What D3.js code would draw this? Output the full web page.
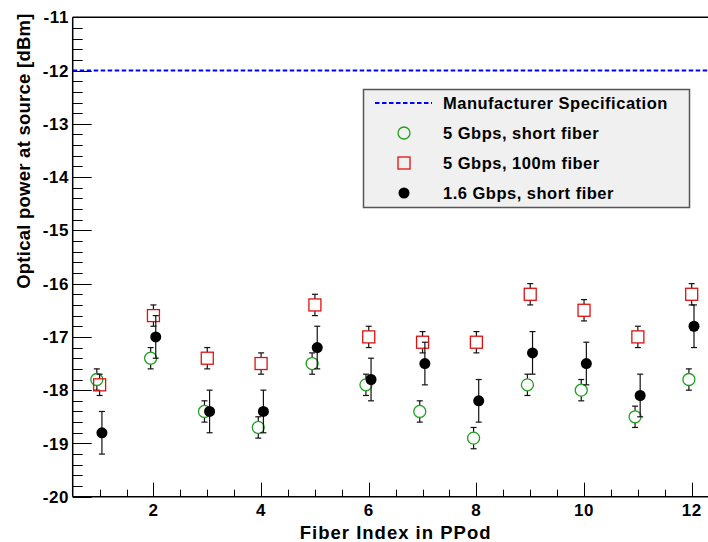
<!DOCTYPE html>
<html>
<head>
<meta charset="utf-8">
<script src="https://cdn.jsdelivr.net/npm/d3@7"></script>
<style>
  html, body { margin: 0; padding: 0; background: #fff; }
  svg { display: block; font-family: "Liberation Sans", Arial, Helvetica, sans-serif; font-weight: bold; }
</style>
</head>
<body>
<svg id="chart" width="708" height="542"></svg>
<script>
// Fiber indices on the PPod
const fibers = [1, 2, 3, 4, 5, 6, 7, 8, 9, 10, 11, 12];

// Measured optical power [dBm]
const short5G = [-17.8, -17.4, -18.4, -18.7, -17.5, -17.9, -18.4, -18.9, -17.9, -18.0, -18.5, -17.8];
const short5GErr = [0.2, 0.2, 0.2, 0.2, 0.2, 0.2, 0.2, 0.2, 0.2, 0.2, 0.2, 0.2];
const long5G = [-17.9, -16.6, -17.4, -17.5, -16.4, -17.0, -17.1, -17.1, -16.2, -16.5, -17.0, -16.2];
const long5GErr = [0.2, 0.2, 0.2, 0.2, 0.2, 0.2, 0.2, 0.2, 0.2, 0.2, 0.2, 0.2];
const short16G = [-18.8, -17.0, -18.4, -18.4, -17.2, -17.8, -17.5, -18.2, -17.3, -17.5, -18.1, -16.8];
const short16GErr = [0.4, 0.4, 0.4, 0.4, 0.4, 0.4, 0.4, 0.4, 0.4, 0.4, 0.4, 0.4];

// Manufacturer minimum specification
const specLevel = -12;

// Axis tick labels
const xTickLabels = [2, 4, 6, 8, 10, 12];
const yTickLabels = [-11, -12, -13, -14, -15, -16, -17, -18, -19, -20];

const legendLabels = ["Manufacturer Specification", "5 Gbps, short fiber", "5 Gbps, 100m fiber", "1.6 Gbps, short fiber"];

const svg = d3.select("#chart");
const plotLeft = 72.7, plotRight = 718.6, plotTop = 17.3, plotBottom = 496.7;

const x = d3.scaleLinear().domain([0.5, 12.5]).range([plotLeft, plotRight]);
const y = d3.scaleLinear().domain([-20, -11]).range([plotBottom, plotTop]);

const green = "#1fa01f", red = "#e01010", blue = "#0000ff";

// Y axis: major ticks every 1, minor every 0.2, ticks pointing inward
const yMinor = d3.range(-20, -10.99, 0.2).map(v => +v.toFixed(1));
svg.append("g").selectAll("line").data(yMinor).join("line")
  .attr("x1", plotLeft).attr("x2", d => plotLeft + (Math.abs(d - Math.round(d)) < 1e-6 ? 19 : 10))
  .attr("y1", d => Math.round(y(d)) + 0.5).attr("y2", d => Math.round(y(d)) + 0.5)
  .attr("stroke", "#000").attr("stroke-width", 1);

svg.append("g").selectAll("text").data(yTickLabels).join("text")
  .attr("x", 69).attr("y", d => y(d)).attr("dy", "0.36em")
  .attr("text-anchor", "end").attr("font-size", 17).attr("letter-spacing", "0.6px")
  .text(d => d);

// X axis: major ticks every 2, minor every 0.5
const xMinor = d3.range(1, 12.51, 0.5);
svg.append("g").selectAll("line").data(xMinor).join("line")
  .attr("x1", d => Math.round(x(d)) + 0.5).attr("x2", d => Math.round(x(d)) + 0.5)
  .attr("y1", plotBottom).attr("y2", d => plotBottom - (d % 2 === 0 ? 14 : 7))
  .attr("stroke", "#000").attr("stroke-width", 1);

svg.append("g").selectAll("text").data(xTickLabels).join("text")
  .attr("x", d => x(d)).attr("y", 516)
  .attr("text-anchor", "middle").attr("font-size", 17).attr("letter-spacing", "0.6px")
  .text(d => d);

// Frame
svg.append("line").attr("x1", plotLeft).attr("x2", plotRight).attr("y1", plotTop).attr("y2", plotTop)
  .attr("stroke", "#000").attr("stroke-width", 1.5);
svg.append("line").attr("x1", plotLeft).attr("x2", plotRight).attr("y1", plotBottom).attr("y2", plotBottom)
  .attr("stroke", "#000").attr("stroke-width", 1.5);
svg.append("line").attr("x1", plotLeft).attr("x2", plotLeft).attr("y1", plotTop).attr("y2", plotBottom)
  .attr("stroke", "#000").attr("stroke-width", 1.5);

// Axis titles
svg.append("text")
  .attr("x", (plotLeft + plotRight) / 2).attr("y", 539)
  .attr("text-anchor", "middle").attr("font-size", 18.5).attr("letter-spacing", "1px")
  .text("Fiber Index in PPod");

svg.append("text")
  .attr("transform", `translate(30,${plotTop - 4}) rotate(-90)`)
  .attr("text-anchor", "end").attr("font-size", 18.5).attr("letter-spacing", "0.25px")
  .text("Optical power at source [dBm]");

// Specification level
svg.append("line")
  .attr("x1", plotLeft).attr("x2", plotRight).attr("y1", y(specLevel)).attr("y2", y(specLevel))
  .attr("stroke", blue).attr("stroke-width", 2).attr("stroke-dasharray", "4.5,2.5");

// Data series with error bars
const series = [
  { values: short5G, errors: short5GErr, shift: -0.052, marker: "circle", size: 6, hollow: true, color: green },
  { values: long5G, errors: long5GErr, shift: 0, marker: "square", size: 6, hollow: true, color: red },
  { values: short16G, errors: short16GErr, shift: 0.043, marker: "dot", size: 5.5, hollow: false, color: "#000" }
];

series.forEach(s => {
  const pts = fibers.map((f, i) => ({ f, v: s.values[i], e: s.errors[i] }));
  const g = svg.append("g");
  const gap = s.hollow ? s.size : 0;
  // vertical bars (outside hollow markers)
  g.selectAll("line.up").data(pts).join("line")
    .attr("x1", d => x(d.f + s.shift)).attr("x2", d => x(d.f + s.shift))
    .attr("y1", d => y(d.v + d.e)).attr("y2", d => y(d.v) - gap)
    .attr("stroke", "#111").attr("stroke-width", 1.2);
  g.selectAll("line.down").data(pts).join("line")
    .attr("x1", d => x(d.f + s.shift)).attr("x2", d => x(d.f + s.shift))
    .attr("y1", d => y(d.v) + gap).attr("y2", d => y(d.v - d.e))
    .attr("stroke", "#111").attr("stroke-width", 1.2);
  // caps
  [1, -1].forEach(sign => {
    g.append("g").selectAll("line").data(pts).join("line")
      .attr("x1", d => x(d.f + s.shift) - 3).attr("x2", d => x(d.f + s.shift) + 3)
      .attr("y1", d => y(d.v + sign * d.e)).attr("y2", d => y(d.v + sign * d.e))
      .attr("stroke", "#111").attr("stroke-width", 1.2);
  });
  // markers
  if (s.marker === "square") {
    g.append("g").selectAll("rect").data(pts).join("rect")
      .attr("x", d => x(d.f + s.shift) - s.size).attr("y", d => y(d.v) - s.size)
      .attr("width", 2 * s.size).attr("height", 2 * s.size)
      .attr("fill", "none").attr("stroke", s.color).attr("stroke-width", 1.3);
  } else {
    g.append("g").selectAll("circle").data(pts).join("circle")
      .attr("cx", d => x(d.f + s.shift)).attr("cy", d => y(d.v)).attr("r", s.size)
      .attr("fill", s.hollow ? "none" : s.color)
      .attr("stroke", s.color).attr("stroke-width", s.hollow ? 1.3 : 0);
  }
});

// Legend
const lg = svg.append("g");
lg.append("rect").attr("x", 363.5).attr("y", 89.5).attr("width", 326).attr("height", 118)
  .attr("fill", "#f0f0f0").attr("stroke", "#555").attr("stroke-width", 1.5);
const rowY = [103, 133, 163, 193];
lg.append("line").attr("x1", 375).attr("x2", 432).attr("y1", rowY[0]).attr("y2", rowY[0])
  .attr("stroke", blue).attr("stroke-width", 2).attr("stroke-dasharray", "4.5,2.5");
lg.append("circle").attr("cx", 404).attr("cy", rowY[1]).attr("r", 6)
  .attr("fill", "none").attr("stroke", green).attr("stroke-width", 1.3);
lg.append("rect").attr("x", 398).attr("y", rowY[2] - 6).attr("width", 12).attr("height", 12)
  .attr("fill", "none").attr("stroke", red).attr("stroke-width", 1.3);
lg.append("circle").attr("cx", 404).attr("cy", rowY[3]).attr("r", 5.5).attr("fill", "#000");
lg.selectAll("text").data(legendLabels).join("text")
  .attr("x", 443).attr("y", (d, i) => rowY[i]).attr("dy", "0.36em")
  .attr("font-size", 16.5).attr("letter-spacing", "0.5px")
  .text(d => d);
</script>
</body>
</html>
